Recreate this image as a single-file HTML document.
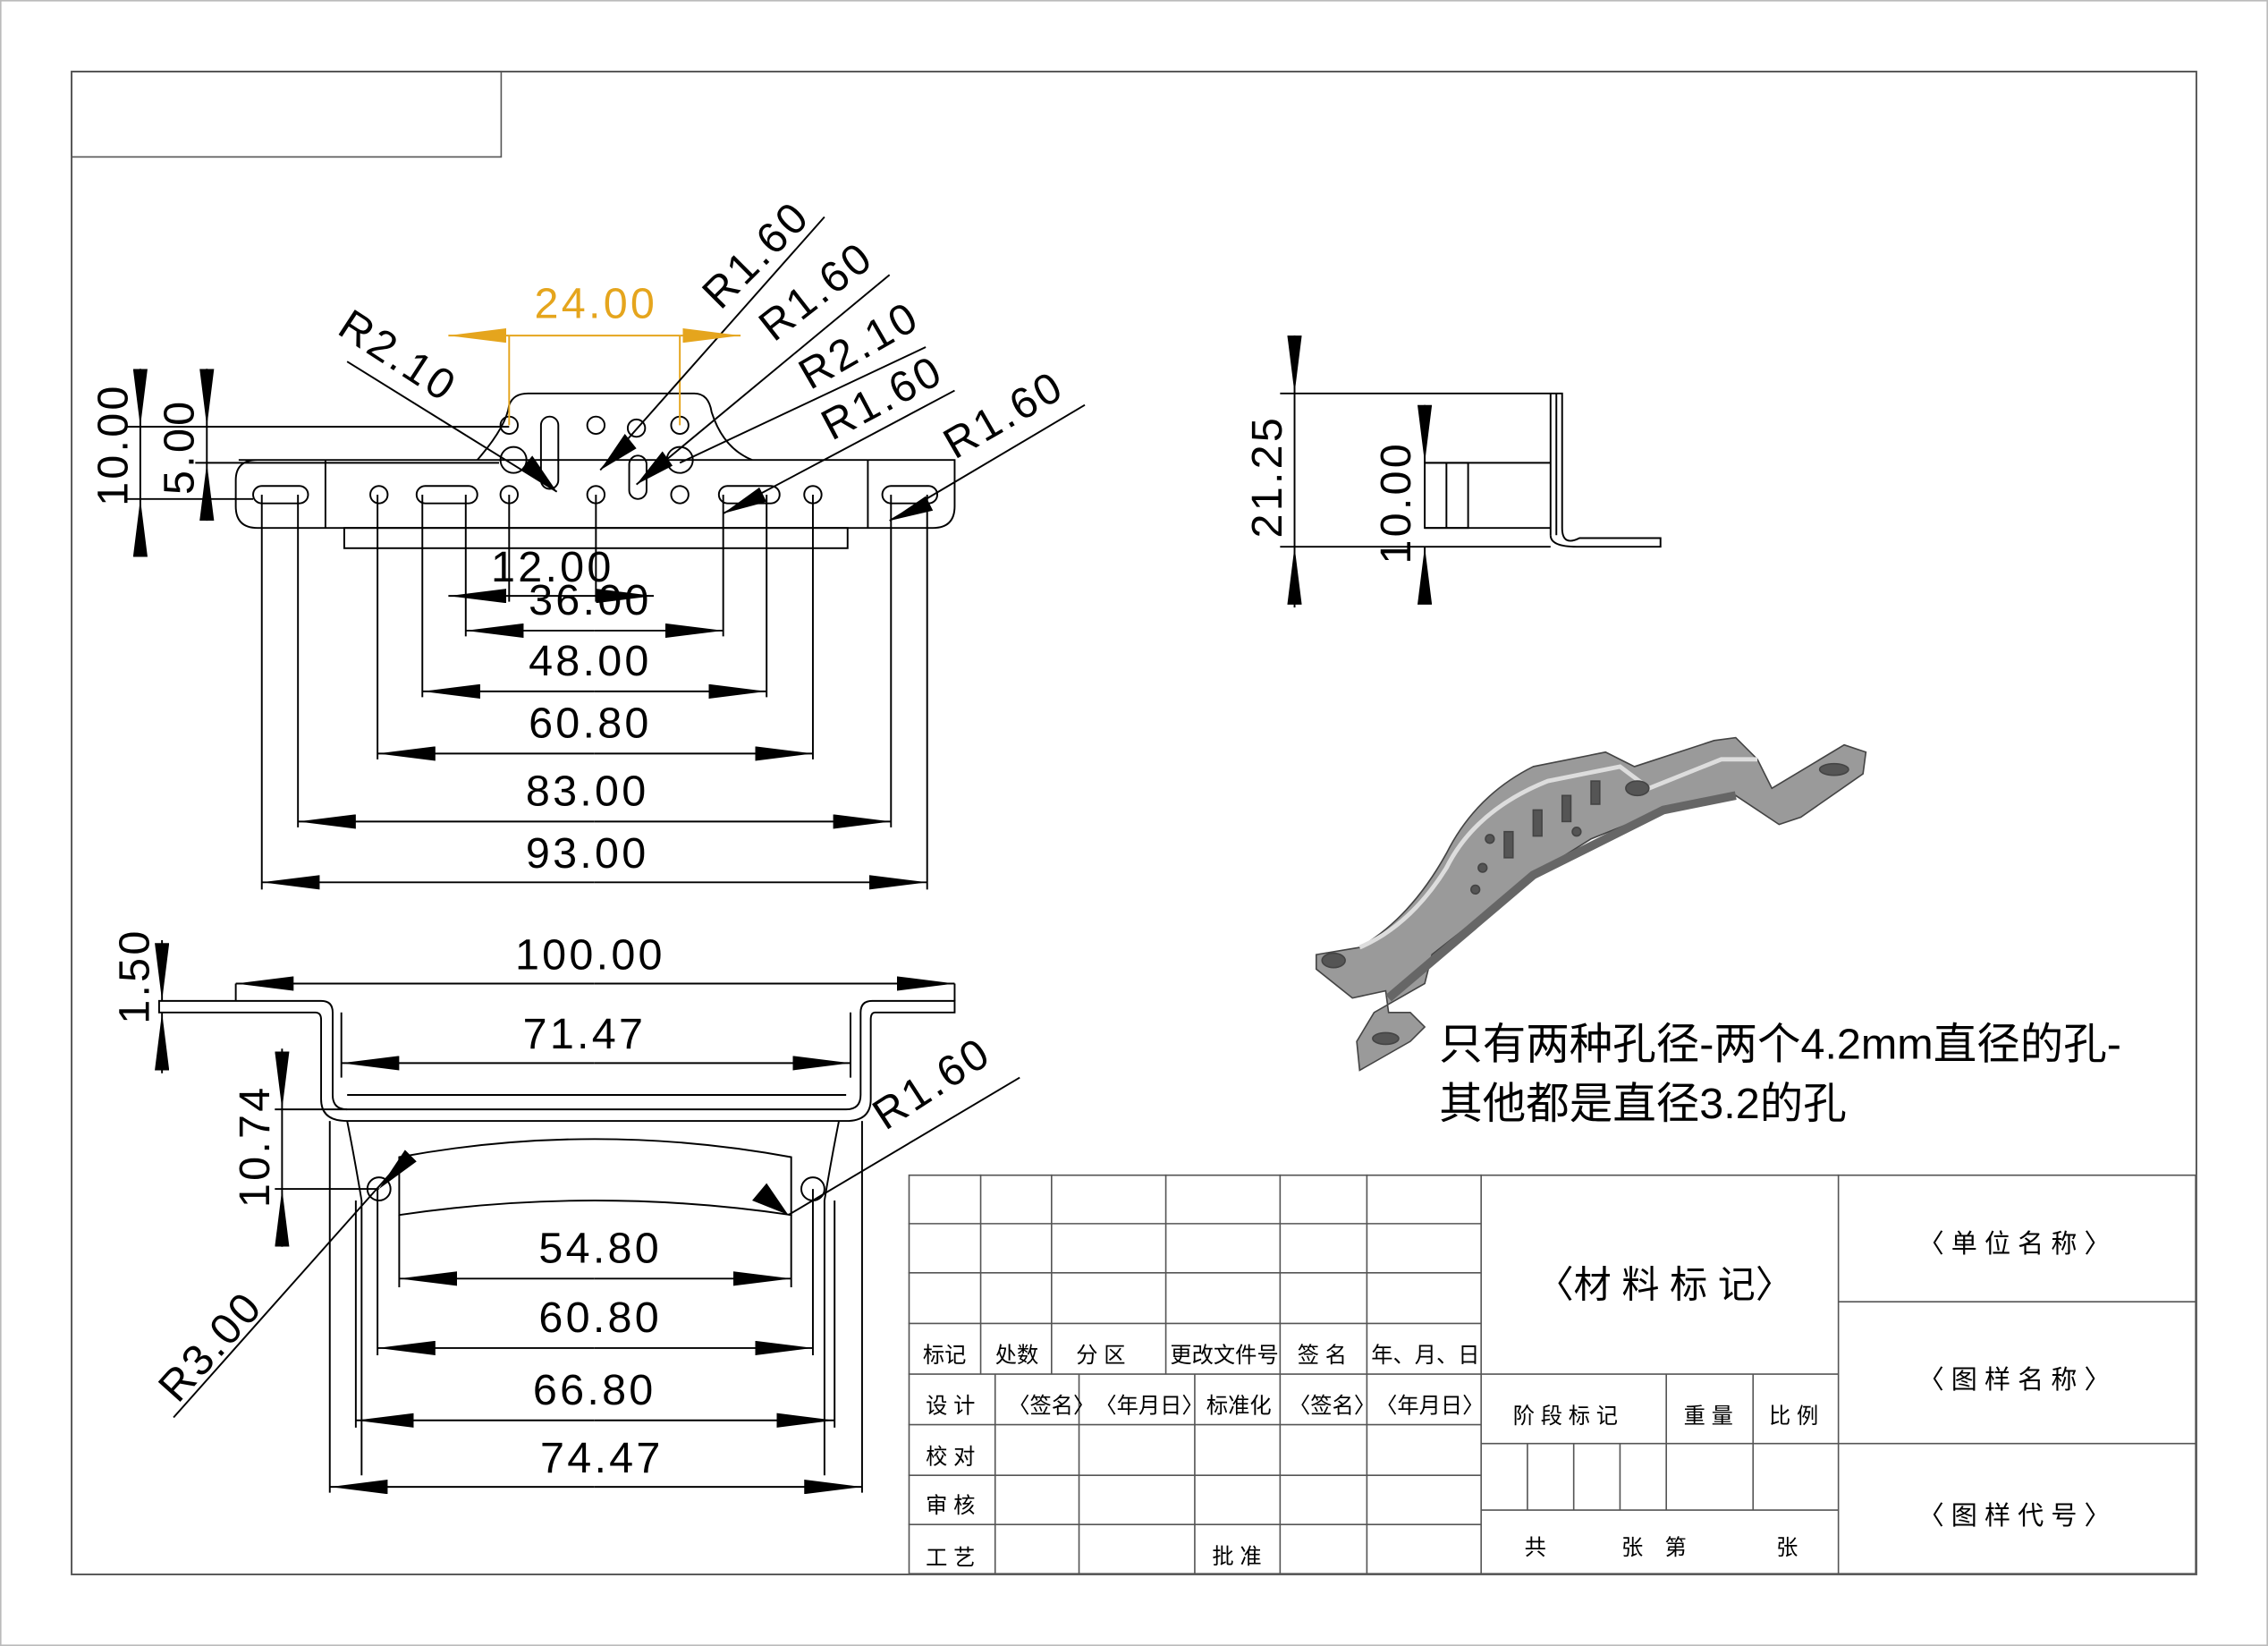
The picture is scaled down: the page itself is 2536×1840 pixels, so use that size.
<!DOCTYPE html>
<html><head><meta charset="utf-8"><style>
html,body{margin:0;padding:0;background:#fff;}
svg{display:block;}
text{font-family:"Liberation Sans","Noto Sans CJK SC",sans-serif;}
.d{font-size:30px;fill:#000;letter-spacing:2px;}
.t{font-size:15px;fill:#000;}
</style></head><body>
<svg width="2536" height="1840" viewBox="0 0 1568 1138" preserveAspectRatio="none" xmlns="http://www.w3.org/2000/svg">
<defs>
<marker id="a" viewBox="0 0 40 10" refX="40" refY="5" markerWidth="40" markerHeight="10" markerUnits="userSpaceOnUse" orient="auto"><path d="M0,0L40,5L0,10z" fill="#000"/></marker>
<marker id="o" viewBox="0 0 40 10" refX="40" refY="5" markerWidth="40" markerHeight="10" markerUnits="userSpaceOnUse" orient="auto"><path d="M0,0L40,5L0,10z" fill="#e5a51d"/></marker>
</defs>
<rect x="0.5" y="0.5" width="1567" height="1137" fill="none" stroke="#bbb"/>
<rect x="49.5" y="49.5" width="1469" height="1039" fill="none" stroke="#555" stroke-width="1.2"/>
<rect x="49.5" y="49.5" width="297" height="59" fill="none" stroke="#555"/>

<g fill="none" stroke="#000" stroke-width="1.2">
<path d="M165,318 L660,318 Q660,318 660,350 Q660,365 645,365 L178,365 Q163,365 163,350 L163,332 Q163,318 178,318Z"/>
<path d="M330,318 Q350,295 352,280 Q355,272 365,272 L480,272 Q490,272 492,285 Q500,310 520,318"/>
<rect x="238" y="365" width="348" height="14"/>
<line x1="225" y1="318" x2="225" y2="365"/><line x1="600" y1="318" x2="600" y2="365"/>
<rect x="175" y="336" width="38" height="12" rx="6"/><rect x="288" y="336" width="42" height="12" rx="6"/>
<rect x="497" y="336" width="42" height="12" rx="6"/><rect x="610" y="336" width="38" height="12" rx="6"/>
<rect x="374" y="288" width="12" height="50" rx="6"/><rect x="435" y="315" width="12" height="30" rx="6"/>
<circle cx="262" cy="342" r="6"/><circle cx="352" cy="342" r="6"/><circle cx="412" cy="342" r="6"/><circle cx="470" cy="342" r="6"/><circle cx="562" cy="342" r="6"/>
<circle cx="352" cy="294" r="6"/><circle cx="412" cy="294" r="6"/><circle cx="440" cy="296" r="6"/><circle cx="470" cy="294" r="6"/>
<circle cx="355" cy="318" r="9"/><circle cx="470" cy="318" r="9"/>
<path d="M181,342V615M206,342V572M261,342V525M292,342V482M322,342V440M352,342V416M412,342V416M500,342V440M530,342V482M562,342V525M616,342V572M641,342V615"/>
<path d="M88,295H352M88,345H175M135,320H345"/>
<path d="M352,294V232M470,294V232" stroke="#e5a51d"/>
<path d="M240,250L385,340M570,150L415,325M615,190L440,335M640,240L470,320M660,270L500,355M750,280L615,360"/>
</g>
<g stroke="#000" stroke-width="1.2">
<line x1="352" y1="412" x2="310" y2="412" marker-end="url(#a)"/><line x1="412" y1="412" x2="452" y2="412" marker-end="url(#a)"/><line x1="352" y1="412" x2="412" y2="412"/>
<line x1="411" y1="436" x2="322" y2="436" marker-end="url(#a)"/><line x1="411" y1="436" x2="500" y2="436" marker-end="url(#a)"/>
<line x1="411" y1="478" x2="292" y2="478" marker-end="url(#a)"/><line x1="411" y1="478" x2="530" y2="478" marker-end="url(#a)"/>
<line x1="411" y1="521" x2="261" y2="521" marker-end="url(#a)"/><line x1="411" y1="521" x2="562" y2="521" marker-end="url(#a)"/>
<line x1="411" y1="568" x2="206" y2="568" marker-end="url(#a)"/><line x1="411" y1="568" x2="616" y2="568" marker-end="url(#a)"/>
<line x1="411" y1="610" x2="181" y2="610" marker-end="url(#a)"/><line x1="411" y1="610" x2="641" y2="610" marker-end="url(#a)"/>
<line x1="97" y1="255" x2="97" y2="295" marker-end="url(#a)"/><line x1="97" y1="385" x2="97" y2="345" marker-end="url(#a)"/><line x1="97" y1="295" x2="97" y2="345"/>
<line x1="143" y1="255" x2="143" y2="295" marker-end="url(#a)"/><line x1="143" y1="360" x2="143" y2="320" marker-end="url(#a)"/><line x1="143" y1="295" x2="143" y2="320"/>
</g>
<g stroke="#e5a51d" stroke-width="1.2"><line x1="352" y1="232" x2="470" y2="232"/>
<line x1="352" y1="232" x2="310" y2="232" marker-end="url(#o)"/><line x1="470" y1="232" x2="512" y2="232" marker-end="url(#o)"/></g>
<g fill="#000"><path d="M385,340L360,325L368,315z"/><path d="M415,325L432,300L440,310z"/><path d="M440,335L458,312L465,322z"/><path d="M500,355L525,337L530,347z"/><path d="M615,360L640,343L645,353z"/></g>
<text class="d" x="382" y="402" text-anchor="middle">12.00</text>
<text class="d" x="408" y="425" text-anchor="middle">36.00</text>
<text class="d" x="408" y="467" text-anchor="middle">48.00</text>
<text class="d" x="408" y="510" text-anchor="middle">60.80</text>
<text class="d" x="406" y="557" text-anchor="middle">83.00</text>
<text class="d" x="406" y="600" text-anchor="middle">93.00</text>
<text class="d" x="412" y="220" text-anchor="middle" style="fill:#e5a51d">24.00</text>
<text class="d" transform="translate(88,350) rotate(-90)">10.00</text>
<text class="d" transform="translate(134,342) rotate(-90)">5.00</text>
<text class="d" transform="translate(232,230) rotate(33)">R2.10</text>
<text class="d" transform="translate(498,215) rotate(-45)">R1.60</text>
<text class="d" transform="translate(535,237) rotate(-38)">R1.60</text>
<text class="d" transform="translate(560,270) rotate(-30)">R2.10</text>
<text class="d" transform="translate(575,305) rotate(-28)">R1.60</text>
<text class="d" transform="translate(660,318) rotate(-30)">R1.60</text>

<g fill="none" stroke="#000" stroke-width="1.2">
<path d="M895,272H1080V365Q1080,378 1092,372H1148V378H1090Q1072,378 1072,370"/>
<path d="M895,378H1072M985,320H1072M985,365H1072"/>
<rect x="985" y="320" width="30" height="45"/><line x1="1000" y1="320" x2="1000" y2="365"/>
<path d="M1072,272V370M1076,272V370"/>
<path d="M885,272H895M885,378H895"/>
</g>
<g stroke="#000" stroke-width="1.2">
<line x1="895" y1="232" x2="895" y2="272" marker-end="url(#a)"/><line x1="895" y1="420" x2="895" y2="378" marker-end="url(#a)"/><line x1="895" y1="272" x2="895" y2="378"/>
<line x1="985" y1="280" x2="985" y2="320" marker-end="url(#a)"/><line x1="985" y1="410" x2="985" y2="378" marker-end="url(#a)"/>
</g>
<text class="d" transform="translate(886,372) rotate(-90)">21.25</text>
<text class="d" transform="translate(975,390) rotate(-90)">10.00</text>

<g fill="none" stroke="#000" stroke-width="1.2">
<path d="M110,692H222Q230,692 230,700V757Q230,767 240,767H585Q595,767 595,757V700Q595,692 603,692H660V700H605Q602,700 602,705V760Q602,775 585,775H240Q222,775 222,760V705Q222,700 218,700H110Z"/>
<path d="M240,775Q245,800 250,830V1020M580,775Q575,800 570,830V1020"/>
<path d="M276,800Q411,775 547,800V840Q411,820 276,840Z"/>
<circle cx="262" cy="822" r="8"/><circle cx="562" cy="822" r="8"/>
<path d="M236,700V745M588,700V745M276,840V890M547,840V890M261,822V937M562,822V937M246,830V987M577,830V987M228,775V1032M596,775V1032"/>
<path d="M163,680V692M660,680V692M190,767H240M190,822H262"/>
<path d="M240,757H585"/>
<path d="M120,980L280,800M545,840L705,745"/>
</g>
<g stroke="#000" stroke-width="1.2">
<line x1="411" y1="680" x2="163" y2="680" marker-end="url(#a)"/><line x1="411" y1="680" x2="660" y2="680" marker-end="url(#a)"/>
<line x1="411" y1="735" x2="236" y2="735" marker-end="url(#a)"/><line x1="411" y1="735" x2="588" y2="735" marker-end="url(#a)"/>
<line x1="411" y1="884" x2="276" y2="884" marker-end="url(#a)"/><line x1="411" y1="884" x2="547" y2="884" marker-end="url(#a)"/>
<line x1="411" y1="932" x2="261" y2="932" marker-end="url(#a)"/><line x1="411" y1="932" x2="562" y2="932" marker-end="url(#a)"/>
<line x1="411" y1="982" x2="246" y2="982" marker-end="url(#a)"/><line x1="411" y1="982" x2="577" y2="982" marker-end="url(#a)"/>
<line x1="411" y1="1028" x2="228" y2="1028" marker-end="url(#a)"/><line x1="411" y1="1028" x2="596" y2="1028" marker-end="url(#a)"/>
<line x1="112" y1="650" x2="112" y2="692" marker-end="url(#a)"/><line x1="112" y1="742" x2="112" y2="700" marker-end="url(#a)"/>
<line x1="195" y1="725" x2="195" y2="767" marker-end="url(#a)"/><line x1="195" y1="862" x2="195" y2="822" marker-end="url(#a)"/><line x1="195" y1="767" x2="195" y2="822"/>
</g>
<g fill="#000"><path d="M262,822L280,795L288,803z"/><path d="M545,840L520,830L530,818z"/></g>
<text class="d" x="408" y="670" text-anchor="middle">100.00</text>
<text class="d" x="404" y="725" text-anchor="middle">71.47</text>
<text class="d" x="415" y="873" text-anchor="middle">54.80</text>
<text class="d" x="415" y="921" text-anchor="middle">60.80</text>
<text class="d" x="411" y="971" text-anchor="middle">66.80</text>
<text class="d" x="416" y="1018" text-anchor="middle">74.47</text>
<text class="d" transform="translate(103,708) rotate(-90)">1.50</text>
<text class="d" transform="translate(186,835) rotate(-90)">10.74</text>
<text class="d" transform="translate(123,971) rotate(-48)">R3.00</text>
<text class="d" transform="translate(612,782) rotate(-33)">R1.60</text>

<g stroke="#444" stroke-width="1">
<path d="M910,660L940,655Q975,635 1000,590Q1020,550 1060,530L1110,520L1130,530L1185,512L1200,510L1215,525L1225,545L1275,515L1290,520L1288,535L1245,565L1230,570L1215,560L1200,550L1150,560L1100,580L1060,605L990,660L985,680L950,700L938,720L940,740L975,720L985,710L975,700L960,700L958,685L935,690L910,670Z" fill="#9a9a9a"/>
<path d="M940,655Q975,640 1000,600Q1020,560 1070,540L1120,530L1140,545L1190,525L1215,525" fill="none" stroke="#ddd" stroke-width="3"/>
<path d="M960,690L1060,605L1150,560L1200,550" fill="none" stroke="#666" stroke-width="6"/>
<ellipse cx="922" cy="664" rx="8" ry="5" fill="#555"/><ellipse cx="1132" cy="545" rx="8" ry="5" fill="#555"/>
<ellipse cx="1268" cy="532" rx="10" ry="4" fill="#555"/><ellipse cx="958" cy="718" rx="9" ry="4" fill="#555"/>
<g fill="#555"><rect x="1040" y="575" width="6" height="18"/><rect x="1060" y="560" width="6" height="18"/><rect x="1080" y="550" width="6" height="18"/><rect x="1100" y="540" width="6" height="16"/><circle cx="1025" cy="600" r="3"/><circle cx="1020" cy="615" r="3"/><circle cx="1090" cy="575" r="3"/><circle cx="1030" cy="580" r="3"/></g>
</g>
<text x="995" y="732" style="font-size:30px">只有两种孔径-两个4.2mm直径的孔-</text>
<text x="995" y="773" style="font-size:30px">其他都是直径3.2的孔</text>

<g fill="none" stroke="#555" stroke-width="1">
<rect x="628.5" y="812.5" width="889.5" height="275.5"/>
<path d="M628,846H1024M628,880H1024M628,915H1024M628,950H1024M628,985H1024M628,1020H1024M628,1054H1024"/>
<path d="M678,812V950M727,812V950M806,812V950M885,812V950M945,812V950M1024,812V1088"/>
<path d="M688,950V1088M746,950V1088M826,950V1088M885,950V1088M945,950V1088"/>
<path d="M1024,950H1271M1024,998H1271M1024,1044H1271M1152,950V1044M1212,950V1044M1056,998V1044M1088,998V1044M1120,998V1044M1271,812V1088M1271,900H1518M1271,998H1518"/>
</g>
<g class="t">
<text x="638" y="942">标记</text><text x="688" y="942">处数</text><text x="744" y="942">分 区</text><text x="809" y="942">更改文件号</text><text x="897" y="942">签 名</text><text x="948" y="942">年、月、日</text>
<text x="640" y="977">设 计</text><text x="697" y="977">〈签名〉</text><text x="757" y="977">〈年月日〉</text><text x="834" y="977">标准化</text><text x="891" y="977">〈签名〉</text><text x="951" y="977">〈年月日〉</text>
<text x="640" y="1012">校 对</text><text x="640" y="1046">审 核</text><text x="640" y="1082">工 艺</text><text x="838" y="1081">批 准</text>
<text x="1046" y="984">阶 段 标 记</text><text x="1164" y="984">重 量</text><text x="1223" y="984">比 例</text>
<text x="1054" y="1075">共</text><text x="1121" y="1075">张</text><text x="1151" y="1075">第</text><text x="1228" y="1075">张</text>
<text x="1326" y="866" style="font-size:18px">〈 单 位 名 称 〉</text>
<text x="1326" y="960" style="font-size:18px">〈 图 样 名 称 〉</text>
<text x="1326" y="1054" style="font-size:18px">〈 图 样 代 号 〉</text>
<text x="1062" y="897" style="font-size:26px">〈材 料 标 记〉</text>
</g>
</svg>
</body></html>
